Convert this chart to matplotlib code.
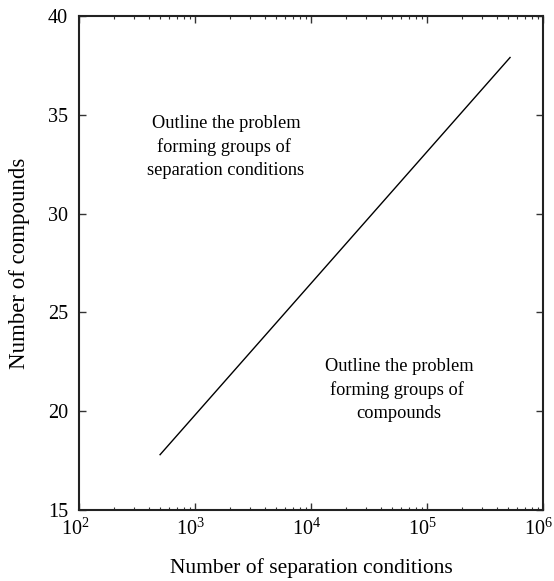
import matplotlib
matplotlib.use("Agg")
import matplotlib.pyplot as plt
from matplotlib.ticker import LogLocator
from matplotlib.transforms import ScaledTranslation

plt.rcParams['font.family'] = ['Liberation Serif', 'DejaVu Serif']
plt.rcParams['mathtext.fontset'] = 'custom'
plt.rcParams['mathtext.rm'] = 'Liberation Serif'
plt.rcParams['mathtext.it'] = 'Liberation Serif:italic'

separation_conditions = [500, 5.2e5]
compounds = [17.8, 37.9]
x_ticks = [1e2, 1e3, 1e4, 1e5, 1e6]
x_tick_labels = ['$10^2$', '$10^3$', '$10^4$', '$10^5$', '$10^6$']
y_ticks = [15, 20, 25, 30, 35, 40]
note_conditions = 'Outline the problem\nforming groups of \nseparation conditions'
note_compounds = 'Outline the problem\nforming groups of \ncompounds'

W, H = 554, 581
fig = plt.figure(figsize=(W / 100, H / 100), dpi=100)
ax = fig.add_axes([79 / W, 1 - 510 / H, (543 - 79) / W, (510 - 16) / H])
ax.plot(separation_conditions, compounds, color='black', lw=1.0)
ax.set_xscale('log')
ax.set_xlim(1e2, 1e6)
ax.set_ylim(15, 40)
ax.set_xticks(x_ticks)
ax.set_xticklabels(x_tick_labels)
ax.set_yticks(y_ticks)
ax.xaxis.set_minor_locator(LogLocator(base=10, subs=range(2, 10), numticks=20))
ax.tick_params(which='both', direction='in', top=True, right=True, color='#333333')
ax.tick_params(which='major', length=5, width=1)
ax.tick_params(which='minor', length=2.5, width=0.8)
ax.tick_params(axis='x', labelsize=14.5, pad=6)
ax.tick_params(axis='y', labelsize=14.5, pad=8)
for s in ax.spines.values():
    s.set_linewidth(1.5)
    s.set_color('#222222')

shift = ScaledTranslation(-3 / 72, 0, fig.dpi_scale_trans)
for lab in ax.get_xticklabels():
    lab.set_transform(lab.get_transform() + shift)

ax.set_xlabel('Number of separation conditions', fontsize=15.5)
ax.xaxis.set_label_coords(0.5, -(568 - 510) / 494, transform=ax.transAxes)
ax.xaxis.label.set_va('center')
ax.set_ylabel('Number of compounds', fontsize=16.5)
ax.yaxis.set_label_coords(-(79 - 20) / 464, 0.5, transform=ax.transAxes)
ax.yaxis.label.set_va('center')

def fig_xy(px, py):
    return px / W, 1 - py / H

fig.text(*fig_xy(226, 147), note_conditions, fontsize=13.2, ha='center', va='center',
         linespacing=1.45)
fig.text(*fig_xy(399, 390), note_compounds, fontsize=13.2, ha='center', va='center',
         linespacing=1.45)
fig.savefig('out.png', dpi=100)
